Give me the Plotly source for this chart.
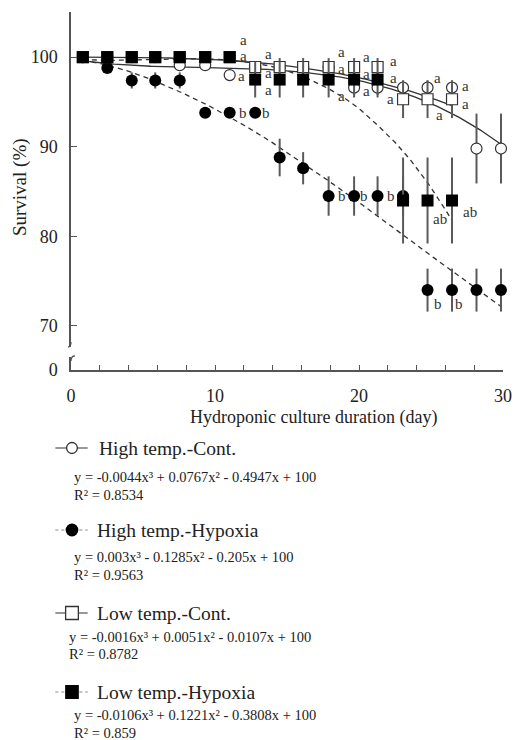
import numpy as np
import plotly.graph_objects as go

# ---------------- data ----------------
days = [0.82, 2.52, 4.22, 5.85, 7.55, 9.32, 11.02, 12.79, 14.49, 16.12,
        17.89, 19.66, 21.29, 23.06, 24.76, 26.46, 28.16, 29.86]

high_cont = [100, 100, 100, 100, 99.1, 99.1, 98.0, 98.9, 98.9, 98.9,
             98.9, 96.6, 96.6, 96.6, 96.6, 96.6, 89.8, 89.8]
high_cont_err = [0, 0, 0, 0, 0, 0, 0, 0, 0, 0,
                 0, 0.8, 0.8, 0.8, 0.8, 0.8, 3.9, 3.9]

high_hyp = [100, 98.8, 97.4, 97.4, 97.4, 93.8, 93.8, 93.8, 88.8, 87.6,
            84.5, 84.5, 84.5, 84.5, 74.0, 74.0, 74.0, 74.0]
high_hyp_err = [0, 0.6, 0.9, 0.9, 0.9, 0.5, 0.5, 0.5, 2.1, 1.8,
                2.2, 2.2, 2.2, 2.2, 2.4, 2.4, 2.4, 2.4]

low_cont = [100, 100, 100, 100, 100, 100, 100, 98.9, 98.9, 98.9,
            98.9, 98.9, 98.9, 95.3, 95.3, 95.3, None, None]
low_cont_err = [0, 0, 0, 0, 0, 0, 0, 0, 1.0, 1.0,
                1.0, 1.0, 1.0, 2.1, 2.1, 2.1, None, None]

low_hyp = [100, 100, 100, 100, 100, 100, 100, 97.5, 97.5, 97.5,
           97.5, 97.5, 97.5, 84.0, 84.0, 84.0, None, None]
low_hyp_err = [0, 0, 0, 0, 0, 0, 0, 2.0, 2.0, 2.0,
               2.0, 2.0, 2.0, 4.8, 4.8, 4.8, None, None]

# published cubic fits (x = sampling index 1..n)
fit_high_cont = [-0.0044, 0.0767, -0.4947, 100]
fit_high_hyp = [0.003, -0.1285, -0.205, 100]
fit_low_cont = [-0.0016, 0.0051, -0.0107, 100]
fit_low_hyp = [-0.0106, 0.1221, -0.3808, 100]

legend_names = ["High temp.-Cont.", "High temp.-Hypoxia", "Low temp.-Cont.", "Low temp.-Hypoxia"]
legend_eqs = ["y = -0.0044x³ + 0.0767x² - 0.4947x + 100",
              "y = 0.003x³ - 0.1285x² - 0.205x + 100",
              "y = -0.0016x³ + 0.0051x² - 0.0107x + 100",
              "y = -0.0106x³ + 0.1221x² - 0.3808x + 100"]
legend_r2 = ["R² = 0.8534", "R² = 0.9563", "R² = 0.8782", "R² = 0.859"]

x_ticks = list(range(0, 31, 2))
x_ticklabels = [str(v) if v % 10 == 0 else "" for v in x_ticks]
y_ticks = [70, 80, 90, 100]

# significance letters: (series, index, text, dx, dy)
letters = [
    ("lh", 6, "a", 14, 17), ("lh", 6, "a", 14, 1), ("hc", 6, "a", 12, -1), ("hh", 6, "b", 13, 0),
    ("lh", 7, "a", 13, 26), ("lh", 7, "a", 13, 7), ("lh", 7, "a", 13, -10), ("hh", 7, "b", 11, 0),
    ("lh", 10, "a", 13, 28), ("lh", 10, "a", 13, 11), ("lh", 10, "a", 13, -16), ("hh", 10, "b", 13, 0),
    ("lh", 11, "a", 12, 23), ("lh", 11, "a", 12, 6), ("lh", 11, "a", 12, -11), ("hh", 11, "b", 10, 0),
    ("lh", 12, "a", 16, 19), ("lh", 12, "a", 16, 2), ("hh", 12, "b", 13, 0),
    ("lc", 13, "a", -13, 0),
    ("hc", 14, "a", 10, 10), ("lc", 14, "a", 12, -16), ("lh", 14, "ab", 12, -18), ("hh", 14, "b", 10, -14),
    ("hc", 15, "a", 13, 2), ("lc", 15, "a", 13, -5), ("lh", 15, "ab", 18, -11), ("hh", 15, "b", 7, -14),
]

# ---------------- layout geometry ----------------
W, H = 521, 740
ML, MR, MT, MB = 71, 9, 12, 370
PW, PH = W - ML - MR, H - MT - MB
FONT = "Liberation Serif"
INK = "#222222"
AX = "#555555"


def px(x):
    return (x - ML) / PW


def py(y):
    return (H - MB - y) / PH


series = {"hc": high_cont, "hh": high_hyp, "lc": low_cont, "lh": low_hyp}

fig = go.Figure()


def fit_curve(coefs, n):
    idx = np.linspace(1, n, 200)
    d = np.interp(idx, np.arange(1, len(days) + 1), days)
    return d, np.polyval(coefs, idx)


for coefs, n, dash in [(fit_high_cont, 18, "solid"), (fit_low_cont, 16, "solid"),
                       (fit_high_hyp, 18, "5px,4px"), (fit_low_hyp, 16, "5px,4px")]:
    d, v = fit_curve(coefs, n)
    fig.add_trace(go.Scatter(x=d, y=v, mode="lines",
                             line=dict(color="#333333", width=1.3, dash=dash),
                             hoverinfo="skip", cliponaxis=False))


def err(a):
    return dict(type="data", array=a, color="#5a5a5a", thickness=2, width=0)


fig.add_trace(go.Scatter(x=days, y=high_cont, mode="markers", error_y=err(high_cont_err),
                         marker=dict(symbol="circle", size=11, color="white",
                                     line=dict(color="#333333", width=1.2)), cliponaxis=False))
fig.add_trace(go.Scatter(x=days, y=high_hyp, mode="markers", error_y=err(high_hyp_err),
                         marker=dict(symbol="circle", size=12, color="black",
                                     line=dict(color="black", width=0)), cliponaxis=False))
fig.add_trace(go.Scatter(x=days, y=low_cont, mode="markers", error_y=err(low_cont_err),
                         marker=dict(symbol="square", size=11, color="white",
                                     line=dict(color="#333333", width=1.2)), cliponaxis=False))
fig.add_trace(go.Scatter(x=days, y=low_hyp, mode="markers", error_y=err(low_hyp_err),
                         marker=dict(symbol="square", size=12, color="black",
                                     line=dict(color="black", width=0)), cliponaxis=False))
# empty trace to realise the lower (broken) axis segment
fig.add_trace(go.Scatter(x=[None], y=[None], yaxis="y2", mode="markers"))

annotations = []
for s, i, t, dx, dy in letters:
    annotations.append(dict(x=days[i], y=series[s][i], xref="x", yref="y", text=t,
                            showarrow=False, xshift=dx, yshift=dy,
                            xanchor="center", yanchor="middle",
                            font=dict(family=FONT, size=15, color="#333333")))

# axis titles
annotations.append(dict(x=px(19), y=py(187), xref="paper", yref="paper", text="Survival (%)",
                        textangle=-90, showarrow=False, xanchor="center", yanchor="middle",
                        font=dict(family=FONT, size=19, color=INK)))
annotations.append(dict(x=px(319), y=py(417), xref="paper", yref="paper",
                        text="Hydroponic culture duration (day)", showarrow=False,
                        xanchor="center", yanchor="middle",
                        font=dict(family=FONT, size=18, color=INK)))

shapes = []
# axis break marks
shapes.append(dict(type="path", xref="paper", yref="paper", line=dict(color=AX, width=1.3),
                   path=f"M {px(71)},{py(342)} Q {px(71)},{py(347)} {px(68)},{py(347)}"))
shapes.append(dict(type="path", xref="paper", yref="paper", line=dict(color=AX, width=1.3),
                   path=f"M {px(75)},{py(356)} Q {px(71)},{py(356)} {px(71)},{py(361)}"))

# legend block
glyph_y = [448, 530, 613, 692]
name_x = [98, 96, 96, 96]
eq_pos = [(72, 477, 495), (72, 557, 575), (67, 637, 654), (72, 715, 733)]
for k in range(4):
    gy = glyph_y[k]
    hyp = k in (1, 3)
    shapes.append(dict(type="line", xref="paper", yref="paper",
                       x0=px(55), x1=px(88), y0=py(gy), y1=py(gy),
                       line=dict(color="#888888" if hyp else "#333333", width=1.2,
                                 dash="dot" if hyp else "solid")))
    cx = 72
    if k == 0:
        r = 5.5
        shapes.append(dict(type="circle", xref="paper", yref="paper",
                           x0=px(cx - r), x1=px(cx + r), y0=py(gy + r), y1=py(gy - r),
                           fillcolor="white", line=dict(color="#333333", width=1.3)))
    elif k == 1:
        r = 6.5
        shapes.append(dict(type="circle", xref="paper", yref="paper",
                           x0=px(cx - r), x1=px(cx + r), y0=py(gy + r), y1=py(gy - r),
                           fillcolor="black", line=dict(color="black", width=0)))
    elif k == 2:
        r = 6.5
        shapes.append(dict(type="rect", xref="paper", yref="paper",
                           x0=px(cx - r), x1=px(cx + r), y0=py(gy + r), y1=py(gy - r),
                           fillcolor="white", line=dict(color="#333333", width=1.3)))
    else:
        r = 7
        shapes.append(dict(type="rect", xref="paper", yref="paper",
                           x0=px(cx - r), x1=px(cx + r), y0=py(gy + r), y1=py(gy - r),
                           fillcolor="black", line=dict(color="black", width=0)))
    annotations.append(dict(x=px(name_x[k]), y=py(gy), xref="paper", yref="paper",
                            text=legend_names[k], showarrow=False, xanchor="left", yanchor="middle",
                            font=dict(family=FONT, size=19.5, color=INK)))
    ex, ey, ry = eq_pos[k]
    annotations.append(dict(x=px(ex), y=py(ey), xref="paper", yref="paper",
                            text=legend_eqs[k], showarrow=False, xanchor="left", yanchor="middle",
                            font=dict(family=FONT, size=14.5, color=INK)))
    annotations.append(dict(x=px(ex), y=py(ry), xref="paper", yref="paper",
                            text=legend_r2[k], showarrow=False, xanchor="left", yanchor="middle",
                            font=dict(family=FONT, size=14.5, color=INK)))

y_main_bottom = (H - MB - 347) / PH
y_low_top = (H - MB - 357) / PH

fig.update_layout(
    width=W, height=H, margin=dict(l=ML, r=MR, t=MT, b=MB, pad=0),
    paper_bgcolor="white", plot_bgcolor="white", showlegend=False,
    font=dict(family=FONT, color=INK),
    xaxis=dict(range=[0, 30], anchor="y2", tickmode="array", tickvals=x_ticks, ticktext=x_ticklabels,
               ticks="inside", ticklen=5, tickcolor=AX, tickwidth=1.3, showline=True, linecolor=AX,
               linewidth=1.5, showgrid=False, zeroline=False, ticklabelstandoff=9,
               tickfont=dict(family=FONT, size=18, color=INK)),
    yaxis=dict(domain=[y_main_bottom, 1], range=[67.65, 105.04], anchor="x", tickmode="array",
               tickvals=y_ticks, ticks="inside", ticklen=6, tickcolor=AX, tickwidth=1.3,
               showline=True, linecolor=AX, linewidth=1.5, showgrid=False, zeroline=False,
               ticklabelstandoff=8, tickfont=dict(family=FONT, size=18, color=INK)),
    yaxis2=dict(domain=[0, y_low_top], range=[0, 1.45], anchor="x", tickmode="array", tickvals=[0],
                ticks="", showline=True, linecolor=AX, linewidth=1.5, showgrid=False, zeroline=False,
                ticklabelstandoff=8, tickfont=dict(family=FONT, size=18, color=INK)),
    annotations=annotations, shapes=shapes,
)

fig.write_html("out.html")
